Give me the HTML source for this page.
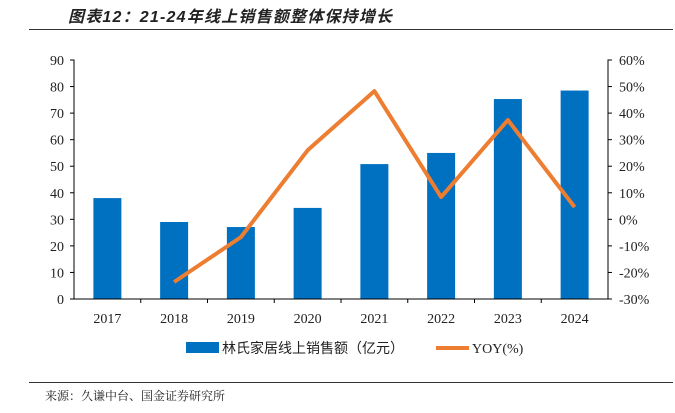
<!DOCTYPE html>
<html><head><meta charset="utf-8"><style>
body{margin:0;background:#fff;width:675px;height:408px;overflow:hidden}
svg text{font-family:"Liberation Serif","Noto Serif CJK SC",serif}
</style></head><body>
<svg id="c" width="675" height="408" viewBox="0 0 675 408">
<text x="68" y="22" font-size="16" font-weight="bold" font-style="italic" letter-spacing="1.2" fill="#222" style="font-family:'Liberation Sans','Noto Sans CJK SC',sans-serif">图表12：21-24年线上销售额整体保持增长</text>
<line x1="29" y1="29.5" x2="673" y2="29.5" stroke="#333" stroke-width="1"/>
<line x1="29" y1="382.5" x2="673" y2="382.5" stroke="#333" stroke-width="1"/>
<text x="45" y="400" font-size="12" fill="#222" style="font-family:'Liberation Serif','Noto Serif CJK SC',serif">来源：久谦中台、国金证券研究所</text>
<g id="plot"></g>
<g>
<rect x="186" y="342" width="33" height="11" fill="#0070C0"/>
<text x="222" y="353" font-size="14" fill="#222" style="font-family:'Liberation Serif','Noto Sans CJK SC',serif">林氏家居线上销售额（亿元）</text>
<line x1="436" y1="348" x2="469" y2="348" stroke="#ED7D31" stroke-width="4"/>
<text x="472" y="353" font-size="14" fill="#222">YOY(%)</text>
</g>
</svg>
<script>
const categories=["2017","2018","2019","2020","2021","2022","2023","2024"];
const sales=[38.0,29.0,27.1,34.3,50.8,55.0,75.3,78.5];
const yoy=[null,-23.6,-6.7,26.0,48.3,8.4,37.4,4.6];
const leftTicks=[0,10,20,30,40,50,60,70,80,90];
const rightTicks=[-30,-20,-10,0,10,20,30,40,50,60];
const NS="http://www.w3.org/2000/svg";
const g=document.getElementById('plot');
const X0=74,X1=608,Y0=299,Y1=60;
const band=(X1-X0)/categories.length;
const xc=i=>X0+band*(i+0.5);
const yl=v=>Y0-(v/90)*(Y0-Y1);
const yr=v=>Y0-((v+30)/90)*(Y0-Y1);
function mk(t,a){const e=document.createElementNS(NS,t);for(const k in a)e.setAttribute(k,a[k]);g.appendChild(e);return e;}
sales.forEach((v,i)=>{
 const r=mk('rect',{x:xc(i)-14,y:yl(v),width:28,height:Y0-yl(v),fill:'#0070C0'});
 
 
});
let ax=mk('path',{d:`M${X0-4},${Y1}H${X0}V${Y0}H${X1}V${Y1}H${X1+4}`,fill:'none',stroke:'#000','stroke-width':1});


leftTicks.forEach(v=>{
 mk('line',{x1:X0-4,x2:X0,y1:yl(v),y2:yl(v),stroke:'#000'});
 const t=mk('text',{x:X0-10,y:yl(v)+5,'font-size':14,'text-anchor':'end',fill:'#222'});t.textContent=v;
 
 
});
rightTicks.forEach(v=>{
 mk('line',{x1:X1,x2:X1+4,y1:yr(v),y2:yr(v),stroke:'#000'});
 const t=mk('text',{x:X1+11,y:yr(v)+5,'font-size':14,fill:'#222'});t.textContent=v+'%';
 
 
});
categories.forEach((c,i)=>{
 if(i>0)mk('line',{x1:X0+band*i,x2:X0+band*i,y1:Y0,y2:Y0+4,stroke:'#000'});
 const t=mk('text',{x:xc(i),y:323,'font-size':14,'text-anchor':'middle',fill:'#222'});t.textContent=c;
 
 
});
const pts=yoy.map((v,i)=>v==null?null:[xc(i),yr(v)]).filter(p=>p);
const ln=mk('polyline',{points:pts.map(p=>p.join(',')).join(' '),fill:'none',stroke:'#ED7D31','stroke-width':4,'stroke-linejoin':'round'});


</script>
</body></html>
